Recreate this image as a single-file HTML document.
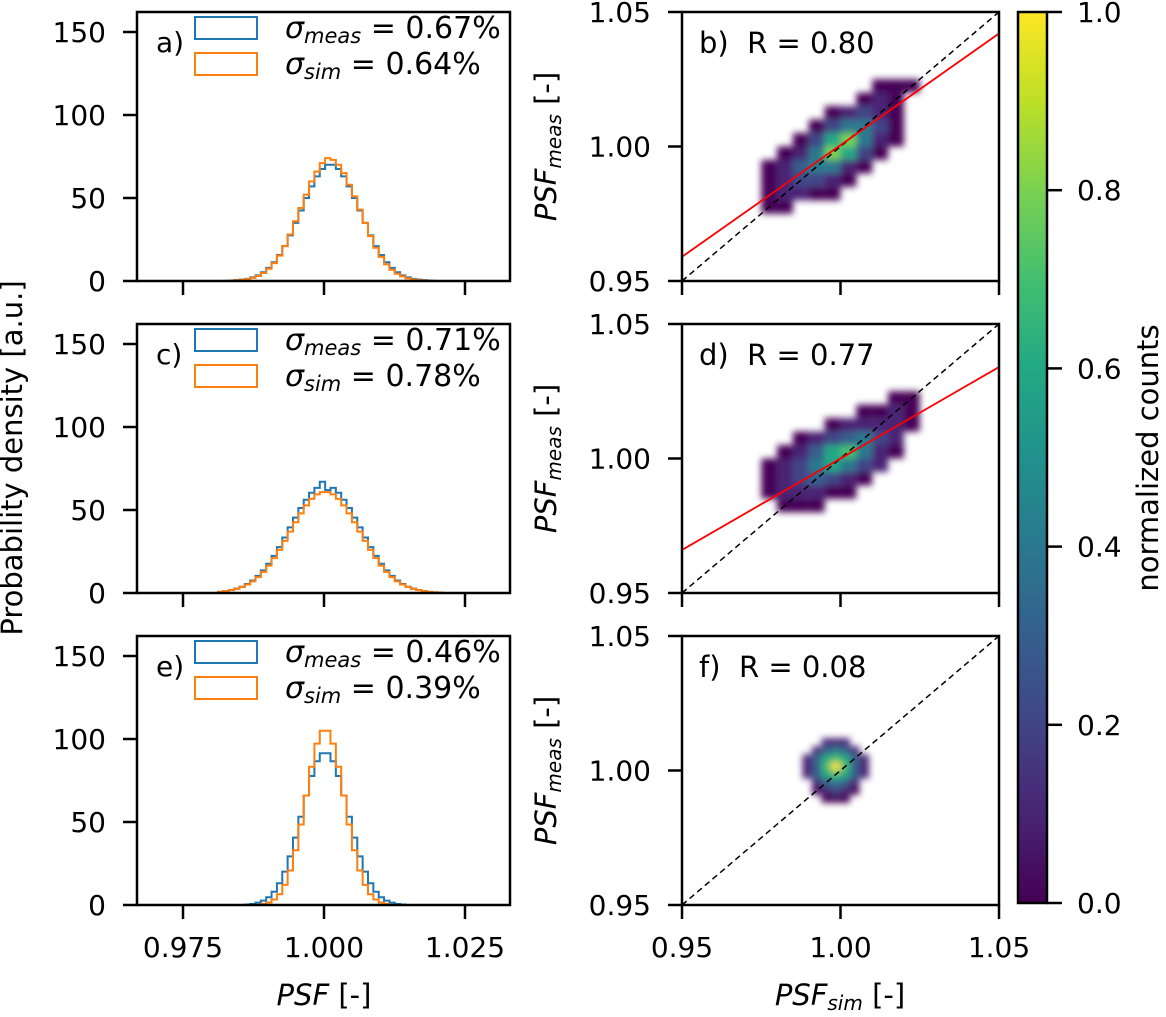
<!DOCTYPE html>
<html><head><meta charset="utf-8"><style>
body{margin:0;background:#fff;}
svg text{font-family:"DejaVu Sans","Liberation Sans",sans-serif;fill:#000;}
</style></head><body>
<svg id="fig" width="1166" height="1012" viewBox="0 0 1166 1012" xmlns="http://www.w3.org/2000/svg" font-size="28">
<defs>
<linearGradient id="vir" x1="0" y1="1" x2="0" y2="0">
<stop offset="0" stop-color="#440154"/><stop offset="0.1" stop-color="#482475"/><stop offset="0.2" stop-color="#414487"/><stop offset="0.3" stop-color="#355f8d"/><stop offset="0.4" stop-color="#2a788e"/><stop offset="0.5" stop-color="#21918c"/><stop offset="0.6" stop-color="#22a884"/><stop offset="0.7" stop-color="#44bf70"/><stop offset="0.8" stop-color="#7ad151"/><stop offset="0.9" stop-color="#bddf26"/><stop offset="1" stop-color="#fde725"/>
</linearGradient>
<filter id="blur"><feGaussianBlur stdDeviation="3.5"/></filter>
</defs>
</svg>
<script>
// ---- histogram data ----
const binStart = 0.9812, binW = 0.00095;
const histA_meas=[0,0.1,0.3,0.5,0.8,1.3,2.2,3.4,5.3,7.9,11.3,15.7,21,27.5,35,42.5,50,57,63,67.5,70,70,67.5,63,57,50,42.5,35,27.5,21,15.7,11.3,7.9,5.3,3.4,2.2,1.3,0.8,0.5,0.3,0.1,0];
const histA_sim=[0,0,0.2,0.4,0.7,1.1,1.9,3.0,4.8,7.4,10.8,15.3,21,28,36,44,52,60,66,71,74,73,70,65,58,51,43,35,27,20,14.5,10,6.8,4.4,2.8,1.6,0.9,0.5,0.3,0.1,0,0];
const histC_meas=[0.7,1.1,1.8,2.6,3.8,5.4,7.5,10.3,13.6,17.6,22.4,27.6,33.4,39.5,45.4,51.2,56.2,60.4,63.3,67,62,63.3,60.4,56.2,51.2,45.4,39.5,33.4,27.6,22.4,17.6,13.6,10.3,7.5,5.4,3.8,2.6,1.8,1.1,0.7,0.4,0.3];
const histC_sim=[0.7,1.1,1.7,2.5,3.6,5.1,7,9.6,12.7,16.5,21,26,31.4,37,42.6,48,52.8,56.7,59.4,60.8,60.8,59.4,56.7,52.8,48,42.6,37,31.4,26,21,16.5,12.7,9.6,7,5.1,3.6,2.5,1.7,1.1,0.7,0.4,0.3];
const histE_meas=[0,0,0,0,0,0.3,0.6,1.4,2.6,4.7,8,13.1,20.1,29.3,40.6,53.2,66,77.7,86.6,91.4,91.4,86.6,77.7,66,53.2,40.6,29.3,20.1,13.1,8,4.7,2.6,1.4,0.6,0.3,0,0,0,0,0,0,0];
const histE_sim=[0,0,0,0,0,0,0,0,0.6,1.5,3.3,6.5,12.1,20.8,33,48.5,66,83.3,97.2,105,105,97.2,83.3,66,48.5,33,20.8,12.1,6.5,3.3,1.5,0.6,0,0,0,0,0,0,0,0,0,0];
const leftTicksX=[0.975,1.000,1.025], leftTickLabelsX=["0.975","1.000","1.025"];
const leftTicksY=[0,50,100,150];
const rightTicks=[0.95,1.00,1.05], rightTickLabels=["0.95","1.00","1.05"];
const cbTicks=[0,0.2,0.4,0.6,0.8,1.0], cbLabels=["0.0","0.2","0.4","0.6","0.8","1.0"];
// ---- 2D histogram data (normalized counts), rows top(high y) -> bottom ----
const gridB_start=0.975, gridB_step=0.005;
const heatB=[
[0,0,0,0,0,0,0,.02,.02,.02],
[0,0,0,0,0,0,.02,.05,.03,0],
[0,0,0,0,.03,.08,.15,.10,.03,0],
[0,0,0,.04,.18,.35,.35,.15,.03,0],
[0,0,.04,.18,.55,.75,.35,.08,.02,0],
[0,.03,.12,.40,.75,.55,.18,.03,0,0],
[.02,.08,.25,.40,.35,.12,.04,0,0,0],
[.03,.12,.20,.15,.08,.03,0,0,0,0],
[.03,.06,.06,.04,.02,0,0,0,0,0],
[.02,.02,0,0,0,0,0,0,0,0]];
const heatD=[
[0,0,0,0,0,0,0,0,.02,.03],
[0,0,0,0,0,0,.02,.04,.05,.02],
[0,0,0,0,.03,.06,.10,.12,.06,.02],
[0,0,.03,.08,.20,.32,.35,.18,.06,0],
[0,.03,.10,.28,.55,.65,.40,.12,.03,0],
[.02,.06,.18,.40,.55,.40,.18,.05,0,0],
[.03,.10,.22,.28,.22,.10,.04,0,0,0],
[.02,.06,.10,.08,.04,.02,0,0,0,0],
[0,.02,.03,.02,0,0,0,0,0,0],
[0,0,0,0,0,0,0,0,0,0]];
const gridF_start=0.988, gridF_step=0.003;
const heatF=[
[0,0,.05,.08,.05,0,0,0],
[0,.08,.25,.35,.25,.08,0,0],
[.05,.25,.55,.70,.55,.25,.05,0],
[.06,.30,.70,.95,.70,.30,.06,0],
[.05,.25,.55,.70,.55,.25,.05,0],
[0,.10,.30,.40,.30,.10,0,0],
[0,.03,.10,.15,.10,.03,0,0],
[0,0,.02,.03,.02,0,0,0]];
// fit lines (x, y endpoints)
const fitB_x=[0.95,1.05], fitB_y=[0.959,1.042];
const fitD_x=[0.95,1.05], fitD_y=[0.966,1.034];

const NS="http://www.w3.org/2000/svg";
const svg=document.getElementById('fig');
function el(tag,attrs,parent){const e=document.createElementNS(NS,tag);for(const k in attrs)e.setAttribute(k,attrs[k]);(parent||svg).appendChild(e);return e;}
const H=269;
const LX0=137, LX1=510;
const xL=v=>324+(v-1)*5640;
const yL=(v,top)=>top+H-v*1.66;
const RX0=682, RX1=999;
const xR=v=>RX0+(v-0.95)*3170;
const yR=(v,top)=>top+H-(v-0.95)*2690;
const vir=["#440154","#482475","#414487","#355f8d","#2a788e","#21918c","#22a884","#44bf70","#7ad151","#bddf26","#fde725"];
function cmap(t){t=Math.max(0,Math.min(1,t));return vir[Math.round(t*10)];}

function histPath(vals,top){let d="";for(let i=0;i<vals.length;i++){const x0=xL(binStart+i*binW),x1=xL(binStart+(i+1)*binW),y=yL(vals[i],top);d+=(i===0?`M${x0},${yL(0,top)}L${x0},${y}`:`L${x0},${y}`)+`L${x1},${y}`;}d+=`L${xL(binStart+vals.length*binW)},${yL(0,top)}`;return d;}

const leftPanels=[
 {top:12,lab:"a)",m:histA_meas,s:histA_sim,sm:"0.67%",ss:"0.64%",n:"a"},
 {top:324,lab:"c)",m:histC_meas,s:histC_sim,sm:"0.71%",ss:"0.78%",n:"c"},
 {top:636,lab:"e)",m:histE_meas,s:histE_sim,sm:"0.46%",ss:"0.39%",n:"e"}];
leftPanels.forEach((p,idx)=>{
 const g=el('g',{});
 
 
 const pm=el('path',{d:histPath(p.m,p.top),fill:'none',stroke:'#1f77b4','stroke-width':2},g);
 
 const ps=el('path',{d:histPath(p.s,p.top),fill:'none',stroke:'#ff7f0e','stroke-width':2},g);
 
 el('rect',{x:LX0,y:p.top,width:LX1-LX0,height:H,fill:'none',stroke:'#000','stroke-width':2.5},g);
 leftTicksY.forEach(t=>{const y=yL(t,p.top);el('line',{x1:123,x2:LX0,y1:y,y2:y,stroke:'#000','stroke-width':2.5},g);const tx=el('text',{x:106,y:y+10,'text-anchor':'end'},g);tx.textContent=t;});
 leftTicksX.forEach((t,i)=>{const x=xL(t);el('line',{x1:x,x2:x,y1:p.top+H,y2:p.top+H+14,stroke:'#000','stroke-width':2.5},g);if(idx===2){const tx=el('text',{x:x,y:957,'text-anchor':'middle'},g);tx.textContent=leftTickLabelsX[i];}});
 const pl=el('text',{x:156,y:p.top+40,style:'font-size:28px'},g);pl.textContent=p.lab;
 const lg=el('g',{},g);
 el('rect',{x:195,y:p.top+5,width:62,height:22,fill:'none',stroke:'#1f77b4','stroke-width':2},lg);
 el('rect',{x:195,y:p.top+41,width:62,height:22,fill:'none',stroke:'#ff7f0e','stroke-width':2},lg);
 const t1=el('text',{x:285,y:p.top+26,style:'font-size:30px'},lg);t1.innerHTML=`<tspan font-style="italic">σ</tspan><tspan font-style="italic" style="font-size:21px" dy="5">meas</tspan><tspan dy="-5"> = ${p.sm}</tspan>`;
 const t2=el('text',{x:285,y:p.top+62,style:'font-size:30px'},lg);t2.innerHTML=`<tspan font-style="italic">σ</tspan><tspan font-style="italic" style="font-size:21px" dy="5">sim</tspan><tspan dy="-5"> = ${p.ss}</tspan>`;
});
const yl=el('text',{x:0,y:0,transform:'translate(22,458) rotate(-90)','text-anchor':'middle',style:'font-size:29px'});yl.textContent="Probability density [a.u.]";

const xl=el('text',{x:324,y:1005,'text-anchor':'middle',style:'font-size:29px'});xl.innerHTML='<tspan font-style="italic">PSF</tspan> [-]';


const rightPanels=[
 {top:12,lab:"b)",R:"R = 0.80",heat:heatB,gs:gridB_start,st:gridB_step,fx:fitB_x,fy:fitB_y,n:"b"},
 {top:324,lab:"d)",R:"R = 0.77",heat:heatD,gs:gridB_start,st:gridB_step,fx:fitD_x,fy:fitD_y,n:"d"},
 {top:636,lab:"f)",R:"R = 0.08",heat:heatF,gs:gridF_start,st:gridF_step,fx:null,fy:null,n:"f"}];
rightPanels.forEach((p,idx)=>{
 const g=el('g',{});
 
 
 const cid='clip'+p.n;const cp=el('clipPath',{id:cid},g);el('rect',{x:RX0,y:p.top,width:RX1-RX0,height:H},cp);
 const hg=el('g',{filter:'url(#blur)','clip-path':`url(#${cid})`},g);
 
 const n=p.heat.length;
 p.heat.forEach((row,r)=>row.forEach((v,c)=>{if(v<=0)return;const x0=xR(p.gs+c*p.st),x1=xR(p.gs+(c+1)*p.st);const yTop=yR(p.gs+(n-r)*p.st,p.top),yBot=yR(p.gs+(n-r-1)*p.st,p.top);
  const cell=el('rect',{x:x0,y:yTop,width:x1-x0,height:yBot-yTop,fill:cmap(v)},hg);
  }));
 const dl=el('line',{x1:xR(0.95),y1:yR(0.95,p.top),x2:xR(1.05),y2:yR(1.05,p.top),stroke:'#000','stroke-width':1.5,'stroke-dasharray':'6,4'},g);
 
 if(p.fx){const fl=el('line',{x1:xR(p.fx[0]),y1:yR(p.fy[0],p.top),x2:xR(p.fx[1]),y2:yR(p.fy[1],p.top),stroke:'#ff0000','stroke-width':1.8},g);
  }
 el('rect',{x:RX0,y:p.top,width:RX1-RX0,height:H,fill:'none',stroke:'#000','stroke-width':2.5},g);
 rightTicks.forEach((t,i)=>{const y=yR(t,p.top);el('line',{x1:668,x2:RX0,y1:y,y2:y,stroke:'#000','stroke-width':2.5},g);const tx=el('text',{x:651,y:y+10,'text-anchor':'end'},g);tx.textContent=rightTickLabels[i];
  const x=xR(t);el('line',{x1:x,x2:x,y1:p.top+H,y2:p.top+H+14,stroke:'#000','stroke-width':2.5},g);
  if(idx===2){const tx2=el('text',{x:x,y:957,'text-anchor':'middle'},g);tx2.textContent=rightTickLabels[i];}});
 const pl=el('text',{x:699,y:p.top+41,style:'font-size:29px;white-space:pre'},g);pl.textContent=p.lab+"  "+p.R;
 
 const yt=el('text',{transform:`translate(556,${p.top+H/2}) rotate(-90)`,'text-anchor':'middle',style:'font-size:29px'},g);
 yt.innerHTML='<tspan font-style="italic">PSF</tspan><tspan font-style="italic" style="font-size:20px" dy="5">meas</tspan><tspan dy="-5"> [-]</tspan>';
 
});
const xr=el('text',{x:840,y:1005,'text-anchor':'middle',style:'font-size:29px'});xr.innerHTML='<tspan font-style="italic">PSF</tspan><tspan font-style="italic" style="font-size:20px" dy="5">sim</tspan><tspan dy="-5"> [-]</tspan>';


// colorbar
const cb=el('g',{});
el('rect',{x:1018,y:12,width:29,height:891,fill:'url(#vir)',stroke:'#000','stroke-width':2.5},cb);
cbTicks.forEach((t,i)=>{const y=903-t*891;el('line',{x1:1047,x2:1062,y1:y,y2:y,stroke:'#000','stroke-width':2.5},cb);const tx=el('text',{x:1077,y:y+10},cb);tx.textContent=cbLabels[i];});
const cbl=el('text',{transform:'translate(1158,458) rotate(-90)','text-anchor':'middle',style:'font-size:29px'});cbl.textContent="normalized counts";

</script>
</body></html>
